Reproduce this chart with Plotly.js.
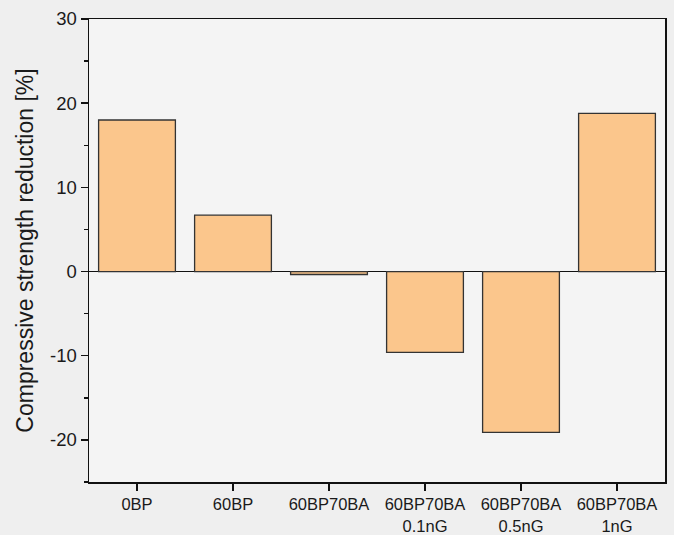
<!DOCTYPE html>
<html>
<head>
<meta charset="utf-8">
<script src="https://cdn.plot.ly/plotly-3.0.1.min.js"></script>
<style>html,body{margin:0;padding:0;background:#f1f1f1;}</style>
</head>
<body>
<div id="chart" style="width:674px;height:535px;"></div>
<script>
const categories = ["0BP", "60BP", "60BP70BA", "60BP70BA<br>0.1nG", "60BP70BA<br>0.5nG", "60BP70BA<br>1nG"];
const reduction = [18.0, 6.7, -0.35, -9.6, -19.1, 18.8];
const yTickVals = [-20, -10, 0, 10, 20, 30];
const yTickText = ["-20", "-10", "0", "10", "20", "30"];

const trace = {
  type: 'bar',
  x: categories,
  y: reduction,
  width: 0.8,
  marker: {color: '#FBC68C', line: {color: '#333333', width: 1.3}},
  hoverinfo: 'skip'
};

const layout = {
  width: 674, height: 535,
  margin: {l: 89, r: 9, t: 19, b: 53},
  paper_bgcolor: '#efefef',
  plot_bgcolor: '#f4f4f4',
  showlegend: false,
  font: {family: 'Arial, Liberation Sans, sans-serif', color: '#1a1a1a'},
  xaxis: {
    type: 'category',
    range: [-0.5, 5.5],
    showline: true, linecolor: '#111', linewidth: 1.5, mirror: true,
    ticks: 'outside', ticklen: 7, tickwidth: 1.5, tickcolor: '#111',
    tickfont: {size: 16.5, color: '#1a1a1a'},
    showgrid: false, zeroline: false
  },
  yaxis: {
    range: [-25, 30],
    tickmode: 'array', tickvals: yTickVals, ticktext: yTickText,
    showline: true, linecolor: '#111', linewidth: 1.5, mirror: true,
    ticks: 'outside', ticklen: 7, tickwidth: 1.5, tickcolor: '#111',
    minor: {tickmode: 'linear', tick0: 0, dtick: 5, ticks: 'outside', ticklen: 4, tickwidth: 1.5, tickcolor: '#111'},
    tickfont: {size: 18.5, color: '#1a1a1a'},
    showgrid: false,
    zeroline: true, zerolinecolor: '#111', zerolinewidth: 1.5,
    title: {text: 'Compressive strength reduction [%]', font: {size: 23, color: '#1a1a1a'}, standoff: 10}
  }
};

Plotly.newPlot('chart', [trace], layout, {displayModeBar: false, staticPlot: true});
</script>
</body>
</html>
